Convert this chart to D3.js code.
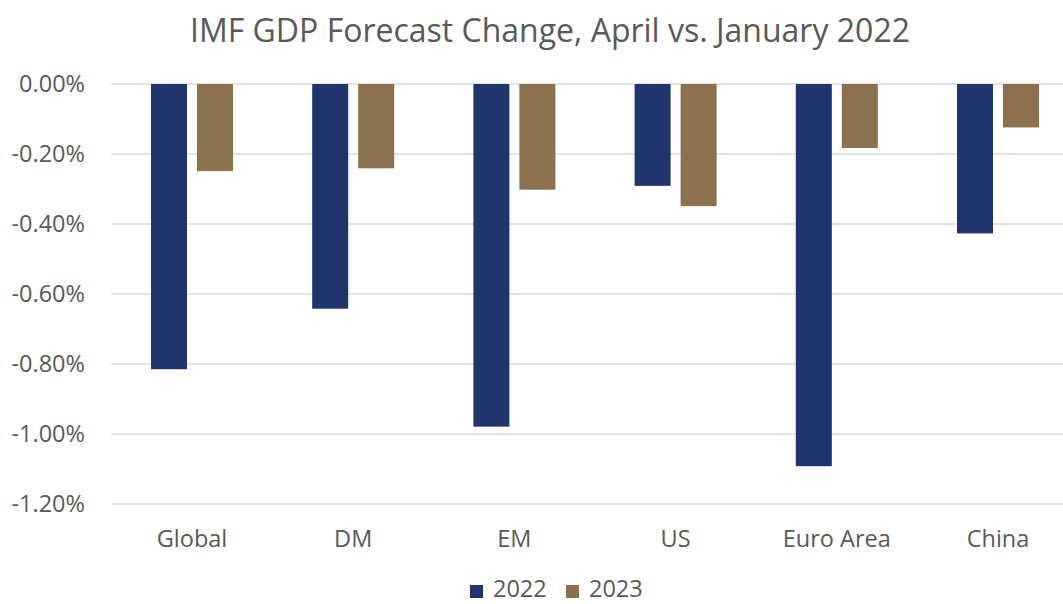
<!DOCTYPE html>
<html><head><meta charset="utf-8">
<script src="https://cdn.jsdelivr.net/npm/d3@7"></script>
<style>body{margin:0;background:#fff}svg{display:block;font-family:"Open Sans",sans-serif}</style>
</head><body><svg id="c" width="1063" height="604"></svg>
<script>
const categories = ["Global","DM","EM","US","Euro Area","China"];
const seriesNames = ["2022","2023"];
const values2022 = [-0.815,-0.642,-0.979,-0.291,-1.092,-0.427];
const values2023 = [-0.249,-0.241,-0.302,-0.349,-0.183,-0.124];
const yTicks = [0,-0.2,-0.4,-0.6,-0.8,-1.0,-1.2];
const colors = ["#1F356B","#8B714E"];

(function(){
const svg = d3.select("#c");
const pLeft = 111.4, pRight = 1078.6, pTop = 84, pBottom = 504;
const fs = 23.5;

const x = d3.scaleBand().domain(categories).range([pLeft,pRight]).paddingInner(0).paddingOuter(0);
const y = d3.scaleLinear().domain([0,-1.2]).range([pTop,pBottom]);
const barW = 36, gap = 10;

svg.append("text").attr("x",550).attr("y",42).attr("text-anchor","middle")
  .attr("font-size",32).attr("fill","#595959").text("IMF GDP Forecast Change, April vs. January 2022");

// gridlines
svg.append("g").selectAll("line").data(yTicks).join("line")
  .attr("x1",pLeft).attr("x2",pRight).attr("y1",d=>y(d)).attr("y2",d=>y(d))
  .attr("stroke","#d9d9d9").attr("stroke-width",1.5);

// y axis labels
const yAxis = d3.axisLeft(y).tickValues(yTicks).tickSize(0).tickPadding(0)
  .tickFormat(d=>d3.format(".2f")(d).replace("\u2212","-")+"%");
const gy = svg.append("g").attr("transform",`translate(85,0)`).call(yAxis);
gy.select(".domain").remove();
gy.selectAll("text").attr("font-size",fs).attr("fill","#595959").attr("font-family","Open Sans");

// bars
const data = categories.map((c,i)=>({c, v:[values2022[i],values2023[i]]}));
const g = svg.append("g");
data.forEach(d=>{
  const cx = x(d.c)+x.bandwidth()/2;
  d.v.forEach((v,j)=>{
    const x0 = j===0 ? cx - gap/2 - barW : cx + gap/2;
    g.append("rect").attr("x",x0).attr("width",barW)
      .attr("y",y(0)).attr("height",y(v)-y(0)).attr("fill",colors[j]);
  });
});

// x axis labels
const xAxis = d3.axisBottom(x).tickSize(0).tickPadding(0);
const gx = svg.append("g").attr("transform",`translate(0,547)`).call(xAxis);
gx.select(".domain").remove();
gx.selectAll("text").attr("font-size",fs).attr("fill","#595959").attr("font-family","Open Sans").attr("dy","0");

// legend
const leg = svg.append("g");
const legX = [470,566];
seriesNames.forEach((s,i)=>{
  leg.append("rect").attr("x",legX[i]).attr("y",585).attr("width",13).attr("height",13).attr("fill",colors[i]);
  leg.append("text").attr("x",legX[i]+23).attr("y",597).attr("font-size",fs).attr("fill","#595959").text(s);
});
})();
</script></body></html>
